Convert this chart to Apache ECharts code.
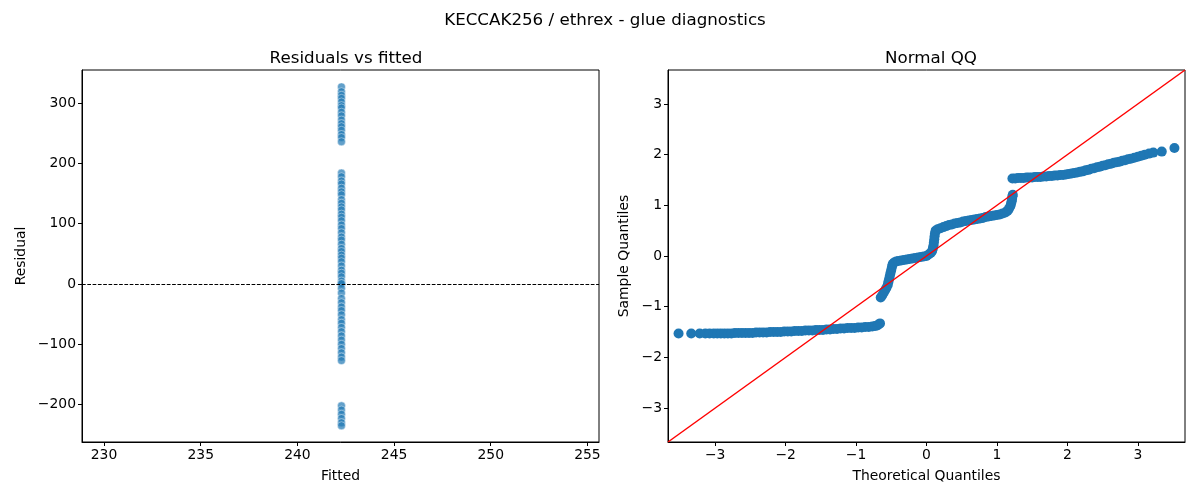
<!DOCTYPE html>
<html>
<head>
    <meta charset="utf-8">
    <title>KECCAK256 / ethrex - glue diagnostics</title>
    <script src="https://cdn.jsdelivr.net/npm/echarts@6/dist/echarts.min.js"></script>
    <style>
        html, body { margin: 0; padding: 0; background: #fff; }
    </style>
</head>
<body>
<div id="main" style="width: 1200px;height:500px;"></div>
<script type="text/javascript">
    // values
    var fittedValue = 242.28;
    var residuals = [
        327, 319, 313, 308, 302, 296, 292, 285, 279, 272, 266, 261, 255, 248, 243, 236,
        184, 178, 171, 166, 159, 153, 148, 140, 134, 128, 123, 116, 111, 105, 98, 92,
        85, 78, 73, 66, 59, 54, 48, 43, 37, 30, 23, 18, 12, 5, 0,
        1, -7, -15, -24, -31, -38, -44, -51, -59, -65, -72, -79, -86, -93, -100, -107,
        -114, -121, -127,
        -202, -209, -216, -223, -230, -235
    ];

    var qqTheoretical = [
        -3.52, -3.34, -3.22, -3.14, -3.08, -3.02, -2.97, -2.92, -2.87, -2.82, -2.77, -2.72,
        -2.67, -2.62, -2.57, -2.52, -2.47, -2.42, -2.37, -2.32, -2.27, -2.22, -2.17, -2.12,
        -2.07, -2.02, -1.97, -1.92, -1.87, -1.82, -1.77, -1.72, -1.67, -1.62, -1.57, -1.52,
        -1.47, -1.42, -1.37, -1.32, -1.27, -1.22, -1.17, -1.12, -1.07, -1.02, -0.97, -0.92,
        -0.87, -0.82, -0.77, -0.73, -0.70, -0.68, -0.66,
        -0.65, -0.63, -0.61, -0.59, -0.57, -0.55, -0.54, -0.53, -0.52, -0.51, -0.50, -0.49,
        -0.48, -0.46, -0.43, -0.40, -0.36, -0.32, -0.28, -0.24, -0.20, -0.16, -0.12, -0.08,
        -0.04, 0.00, 0.03, 0.06, 0.08, 0.09, 0.10, 0.105, 0.11, 0.115, 0.12, 0.13,
        0.16, 0.20, 0.24, 0.28, 0.32, 0.36, 0.40, 0.44, 0.48, 0.52, 0.56, 0.60,
        0.64, 0.68, 0.72, 0.76, 0.80, 0.84, 0.88, 0.92, 0.96, 1.00, 1.04, 1.08,
        1.12, 1.15, 1.17, 1.19, 1.20, 1.21, 1.215, 1.22, 1.225,
        1.22, 1.26, 1.30, 1.34, 1.38, 1.42, 1.46, 1.50, 1.54, 1.58, 1.62, 1.66,
        1.70, 1.74, 1.78, 1.82, 1.86, 1.90, 1.94, 1.98, 2.02, 2.06, 2.10, 2.14,
        2.18, 2.22, 2.26, 2.30, 2.34, 2.38, 2.42, 2.46, 2.50, 2.54, 2.58, 2.62,
        2.66, 2.70, 2.74, 2.78, 2.82, 2.86, 2.90, 2.95, 3.00, 3.05, 3.10, 3.16,
        3.22, 3.34, 3.52
    ];
    var qqSample = [
        -1.53, -1.53, -1.53, -1.53, -1.53, -1.53, -1.53, -1.53, -1.53, -1.53, -1.53, -1.52,
        -1.52, -1.52, -1.52, -1.52, -1.52, -1.51, -1.51, -1.51, -1.51, -1.50, -1.50, -1.50,
        -1.50, -1.49, -1.49, -1.49, -1.48, -1.48, -1.48, -1.47, -1.47, -1.47, -1.46, -1.46,
        -1.46, -1.45, -1.45, -1.44, -1.44, -1.43, -1.43, -1.42, -1.42, -1.42, -1.41, -1.41,
        -1.40, -1.40, -1.39, -1.38, -1.37, -1.35, -1.33,
        -0.82, -0.78, -0.73, -0.68, -0.63, -0.57, -0.51, -0.45, -0.39, -0.33, -0.27, -0.21,
        -0.16, -0.13, -0.11, -0.10, -0.09, -0.08, -0.07, -0.06, -0.05, -0.04, -0.03, -0.02,
        -0.01, 0.00, 0.03, 0.06, 0.10, 0.15, 0.21, 0.27, 0.33, 0.39, 0.45, 0.50,
        0.53, 0.55, 0.57, 0.59, 0.61, 0.62, 0.64, 0.65, 0.66, 0.68, 0.69, 0.70,
        0.71, 0.72, 0.73, 0.74, 0.75, 0.77, 0.78, 0.79, 0.80, 0.81, 0.82, 0.84,
        0.86, 0.89, 0.93, 0.98, 1.03, 1.08, 1.13, 1.18, 1.21,
        1.53, 1.53, 1.54, 1.54, 1.54, 1.55, 1.55, 1.55, 1.56, 1.56, 1.56, 1.57,
        1.57, 1.58, 1.58, 1.59, 1.59, 1.60, 1.60, 1.61, 1.62, 1.63, 1.64, 1.65,
        1.66, 1.67, 1.69, 1.70, 1.72, 1.73, 1.75, 1.76, 1.78, 1.79, 1.81, 1.82,
        1.84, 1.85, 1.86, 1.88, 1.89, 1.91, 1.92, 1.94, 1.96, 1.98, 2.00, 2.02,
        2.04, 2.06, 2.13
    ];

    var fittedTicks = [230, 235, 240, 245, 250, 255];
    var residualTicks = [-200, -100, 0, 100, 200, 300];
    var quantileTicks = [-3, -2, -1, 0, 1, 2, 3];

    var myChart = echarts.init(document.getElementById('main'));
    var font = 'DejaVu Sans';

    function minus(v) {
        return String(v).replace('-', '\u2212');
    }

    function axis(ticks, min, max, name, gap, rotate) {
        return {
            type: 'value',
            min: min,
            max: max,
            name: name,
            nameLocation: 'middle',
            nameGap: gap,
            nameRotate: rotate,
            nameTextStyle: {color: '#000', fontSize: 13.9, fontFamily: font},
            axisLine: {show: true, onZero: false, lineStyle: {color: '#000', width: 1}},
            axisTick: {show: true, length: 4, customValues: ticks, lineStyle: {color: '#000'}},
            axisLabel: {
                color: '#000', fontSize: 13.9, fontFamily: font, margin: 6,
                customValues: ticks, formatter: minus
            },
            splitLine: {show: false}
        };
    }

    var leftData = residuals.map(function (r) { return [fittedValue, r]; });
    var qqData = qqTheoretical.map(function (t, i) { return [t, qqSample[i]]; });

    var titleStyle = {fontSize: 16.7, fontWeight: 'normal', color: '#000', fontFamily: font};

    var option = {
        animation: false,
        backgroundColor: '#fff',
        title: [
            {text: 'KECCAK256 / ethrex - glue diagnostics', left: 600, top: 7, textAlign: 'center', textStyle: titleStyle},
            {text: 'Residuals vs fitted', left: 341, top: 45, textAlign: 'center', textStyle: titleStyle},
            {text: 'Normal QQ', left: 926, top: 45, textAlign: 'center', textStyle: titleStyle}
        ],
        grid: [
            {left: 82, top: 70, width: 517, height: 372, show: true, borderColor: '#000', borderWidth: 1},
            {left: 668, top: 70, width: 517, height: 372, show: true, borderColor: '#000', borderWidth: 1}
        ],
        xAxis: [
            Object.assign(axis(fittedTicks, 228.86, 255.6, 'Fitted', 27, 0), {gridIndex: 0}),
            Object.assign(axis(quantileTicks, -3.67, 3.67, 'Theoretical Quantiles', 27, 0), {gridIndex: 1})
        ],
        yAxis: [
            Object.assign(axis(residualTicks, -262, 355, 'Residual', 54, 90), {gridIndex: 0}),
            Object.assign(axis(quantileTicks, -3.67, 3.67, 'Sample Quantiles', 37, 90), {gridIndex: 1})
        ],
        series: [
            {
                type: 'scatter',
                xAxisIndex: 0,
                yAxisIndex: 0,
                symbolSize: 8,
                itemStyle: {color: '#1f77b4', opacity: 0.7, borderColor: '#fff', borderWidth: 0.6},
                data: leftData,
                markLine: {
                    silent: true,
                    symbol: 'none',
                    label: {show: false},
                    lineStyle: {color: '#000', type: [3.7, 1.6], width: 1, opacity: 1},
                    data: [{yAxis: 0}]
                }
            },
            {
                type: 'scatter',
                xAxisIndex: 1,
                yAxisIndex: 1,
                symbolSize: 10,
                itemStyle: {color: '#1f77b4', opacity: 1},
                data: qqData
            },
            {
                type: 'line',
                xAxisIndex: 1,
                yAxisIndex: 1,
                symbol: 'none',
                clip: true,
                lineStyle: {color: '#ff0000', width: 1.5},
                data: [[-3.67, -3.67], [3.67, 3.67]]
            }
        ]
    };
    myChart.setOption(option);
</script>
</body>
</html>
